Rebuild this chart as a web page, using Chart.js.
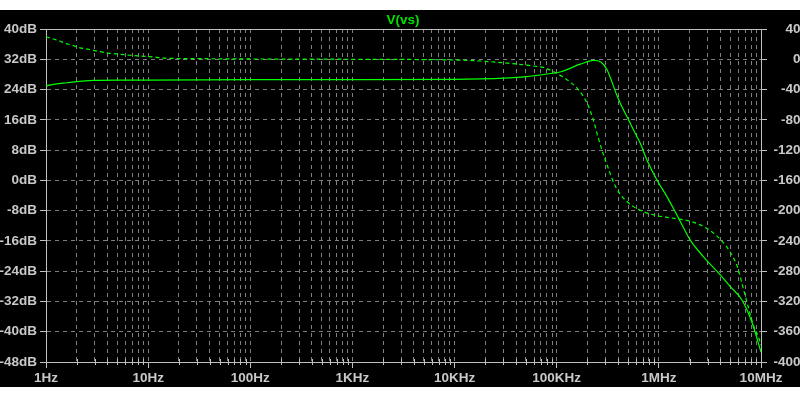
<!DOCTYPE html>
<html>
<head>
<meta charset="utf-8">
<script src="https://cdn.jsdelivr.net/npm/chart.js@4.4.1/dist/chart.umd.min.js"></script>
<style>
  html, body { margin:0; padding:0; background:#fff; overflow:hidden; width:800px; height:400px; }
  #wrap { position:absolute; left:0; top:10px; width:806px; height:377px; }
</style>
</head>
<body>
<div id="wrap"><canvas id="bode" width="806" height="377"></canvas></div>
<script>
// ─── Bode plot of V(vs), LTspice look ───────────────────────────────────────
// Magnitude (solid, left axis dB) and phase (dashed, right axis degrees)

const DECADE_LABELS = ['1Hz','10Hz','100Hz','1KHz','10KHz','100KHz','1MHz','10MHz'];

// magnitude trace
const magFreq = [1, 1.27, 1.6, 2, 2.9, 5, 10, 100, 1e3, 1e4, 1.8e4, 3e4, 5e4, 8e4, 1.1e5, 1.7e5, 2.3e5, 2.7e5, 3.1e5, 3.88e5, 4.19e5, 5.05e5, 5.65e5, 6.58e5, 7.64e5, 9.58e5, 1.2e6, 1.56e6, 2.03e6, 2.74e6, 3.99e6, 5e6, 6.51e6, 8.2e6, 1e7];
const magDb   = [25.0, 25.5, 25.8, 26.1, 26.4, 26.5, 26.5, 26.6, 26.6, 26.7, 26.8, 27.0, 27.4, 28.1, 28.7, 30.7, 31.7, 31.3, 29.3, 22.5, 20.4, 16.0, 13.3, 9.8, 5.4, 0.1, -4.3, -10.0, -15.8, -20.2, -25.0, -28.1, -31.6, -37.7, -45.4];

// phase trace
const phaseFreq = [1, 1.18, 1.37, 1.53, 1.78, 2.07, 2.6, 3.38, 4.2, 5.3, 6.6, 9, 12.1, 15.2, 32, 100, 1e3, 1e4, 1.8e4, 4e4, 5.9e4, 7.7e4, 9e4, 1.15e5, 1.35e5, 1.58e5, 1.98e5, 2.28e5, 2.54e5, 2.9e5, 3.12e5, 3.61e5, 4.19e5, 5.65e5, 8.9e5, 1.38e6, 2.1e6, 2.9e6, 3.6e6, 4.6e6, 5.4e6, 6e6, 6.5e6, 7.05e6, 8.5e6, 9.5e6, 1e7];
const phaseDeg  = [29.8, 26.8, 24.1, 21.1, 18.9, 15.8, 13.2, 10.0, 7.9, 6.6, 5.3, 4.0, 2.6, 1.3, 0.8, 0.4, 0, -1, -2.3, -6.2, -8.9, -11.5, -15.5, -23.4, -30, -38, -57.7, -80, -103, -128, -140, -163, -178.4, -194.7, -205.7, -210, -214.5, -223, -232, -247.6, -263, -278, -296, -313.6, -353, -368, -378];

const GRID = '#808080';
const AXIS = '#c0c0c0';
const TXT = '#c8c8c8';
const FONT = { family: '"Liberation Sans", Arial, sans-serif', size: 13.5, weight: 'bold', lineHeight: 1.2 };

const toXY = (xs, ys) => xs.map((x, i) => ({ x: x, y: ys[i] }));

// black background + solid frame round the plot
const frame = {
  id: 'frame',
  beforeDraw(chart) {
    const c = chart.ctx;
    c.save();
    c.fillStyle = '#000';
    c.fillRect(0, 0, chart.width, chart.height);
    c.restore();
  },
  beforeDatasetsDraw(chart) {
    const a = chart.chartArea, c = chart.ctx, xs = chart.scales.x;
    c.save();
    c.strokeStyle = AXIS;
    c.lineWidth = 1;
    c.strokeRect(Math.round(a.left) + 0.5, Math.round(a.top) + 0.5, Math.round(a.right - a.left), Math.round(a.bottom - a.top));
    // little crosses on the bottom axis at minor ticks
    xs.ticks.forEach(t => {
      if (isDecade(t.value)) return;
      const px = Math.round(xs.getPixelForValue(t.value)) + 0.5;
      c.beginPath();
      c.moveTo(px, a.bottom - 3);
      c.lineTo(px, a.bottom + 3);
      c.stroke();
    });
    c.restore();
  }
};

function decadeTicks(scale) {
  const ticks = [];
  for (let e = 0; e < 7; e++) {
    for (let m = 1; m < 10; m++) ticks.push({ value: m * Math.pow(10, e) });
  }
  ticks.push({ value: 1e7 });
  scale.ticks = ticks;
}

function isDecade(v) { const l = Math.log10(v); return Math.abs(l - Math.round(l)) < 1e-9; }

new Chart(document.getElementById('bode'), {
  type: 'scatter',
  data: {
    datasets: [
      {
        label: 'mag',
        data: toXY(magFreq, magDb),
        yAxisID: 'y',
        showLine: true,
        borderColor: '#00ff00',
        borderWidth: 1.2,
        pointRadius: 0,
        cubicInterpolationMode: 'monotone',
      },
      {
        label: 'phase',
        data: toXY(phaseFreq, phaseDeg),
        yAxisID: 'y1',
        showLine: true,
        borderColor: '#00ff00',
        borderWidth: 1.2,
        borderDash: [4, 3],
        pointRadius: 0,
        cubicInterpolationMode: 'monotone',
      }
    ]
  },
  options: {
    responsive: false,
    animation: false,
    layout: { padding: 0 },
    plugins: {
      legend: { display: false },
      tooltip: { enabled: false },
      title: {
        display: true,
        text: 'V(vs)',
        color: '#00e000',
        font: FONT,
        padding: { top: 2, bottom: 0.8 }
      }
    },
    scales: {
      x: {
        type: 'logarithmic',
        min: 1, max: 1e7,
        afterBuildTicks: decadeTicks,
        afterFit: s => { s.height = 25; },
        ticks: {
          autoSkip: false, maxRotation: 0, minRotation: 0,
          color: TXT, font: FONT, padding: 2,
          callback: v => isDecade(v) ? DECADE_LABELS[Math.round(Math.log10(v))] : ''
        },
        grid: {
          color: GRID, lineWidth: 1,
          tickLength: 6,
          tickColor: ctx => (ctx.tick && isDecade(ctx.tick.value)) ? AXIS : 'transparent'
        },
        border: { color: AXIS, dash: [4, 4] }
      },
      y: {
        position: 'left',
        min: -48, max: 40,
        afterFit: s => { s.width = 46; },
        ticks: { stepSize: 8, color: TXT, font: FONT, padding: 3, callback: v => v + 'dB' },
        grid: { color: GRID, tickLength: 6, tickColor: AXIS },
        border: { color: AXIS, dash: [4, 4] }
      },
      y1: {
        position: 'right',
        min: -400, max: 40,
        afterFit: s => { s.width = 45; },
        ticks: { stepSize: 40, color: TXT, font: FONT, padding: 2, crossAlign: 'far', callback: v => v + '°' },
        grid: { drawOnChartArea: false, tickLength: 6, tickColor: AXIS },
        border: { color: AXIS }
      }
    }
  },
  plugins: [frame]
});
</script>
</body>
</html>
